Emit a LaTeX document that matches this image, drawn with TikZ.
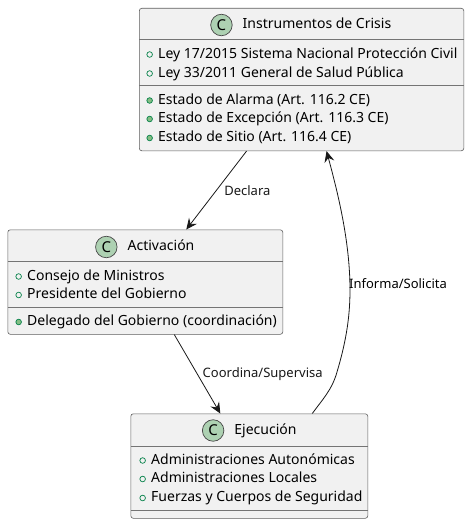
\documentclass[tikz,border=0pt]{standalone}
\usepackage{fontspec}
\setmainfont{Noto Sans}
\usepackage{xcolor}
\usetikzlibrary{arrows.meta, positioning, calc}
\definecolor{boxfill}{HTML}{F1F1F1}
\definecolor{boxline}{HTML}{181818}
\definecolor{iconfill}{HTML}{ADD1B2}
\definecolor{memberline}{HTML}{038048}
\definecolor{memberfill}{HTML}{84BE84}

\begin{document}
\begin{tikzpicture}[x=1pt, y=-1pt,
  classbox/.style={rectangle, rounded corners=2.5pt, draw=boxline!70, fill=boxfill, line width=0.6pt,
                   anchor=north west, inner sep=0pt},
  classline/.style={draw=boxline!60, line width=0.6pt},
  classname/.style={inner sep=0pt, font=\fontsize{14}{16}\selectfont, text height=10.5pt, text depth=3pt},
  classicon/.style={circle, draw=boxline!80, fill=iconfill, line width=0.7pt, minimum size=21.5pt, inner sep=0pt,
                    font=\fontsize{15}{16}\selectfont\bfseries},
  member/.style={inner sep=0pt, anchor=west, font=\fontsize{14}{16}\selectfont, text height=10.5pt, text depth=3pt},
  fieldicon/.style={circle, draw=memberline, line width=0.7pt, minimum size=5.6pt, inner sep=0pt},
  methodicon/.style={fieldicon, fill=memberfill},
  arrow/.style={-{Stealth[length=11pt, width=10pt, inset=4pt]}, boxline, line width=0.8pt},
  edgelabel/.style={inner sep=0pt, font=\fontsize{13}{15}\selectfont},
]
  \useasboundingbox (0,0) rectangle (469,524);

  % crisis instruments
  \node[classbox, minimum width=324.5pt, minimum height=142.5pt] (instr) at (139,8) {};
  \node[classname] (instrname) at (317,25) {Instrumentos de Crisis};
  \node[classicon, left=10pt of instrname] (instricon) {C};
  \draw[classline] (139,39) -- (463.5,39);
  \draw[classline] (139,85) -- (463.5,85);
  \node[member] (instra) at (158,54.5) {Ley 17/2015 Sistema Nacional Protección Civil};
  \node[member] (instrb) at (158,73.5) {Ley 33/2011 General de Salud Pública};
  \node[member] (instrc) at (158,100.5) {Estado de Alarma (Art. 116.2 CE)};
  \node[member] (instrd) at (158,119) {Estado de Excepción (Art. 116.3 CE)};
  \node[member] (instre) at (158,138) {Estado de Sitio (Art. 116.4 CE)};

  % activation
  \node[classbox, minimum width=275pt, minimum height=104.5pt] (activ) at (7.5,229.5) {};
  \node[classname] (activname) at (161,247) {Activación};
  \node[classicon, left=10pt of activname] (activicon) {C};
  \draw[classline] (7.5,261.5) -- (282.5,261.5);
  \draw[classline] (7.5,307.5) -- (282.5,307.5);
  \node[member] (activa) at (27,276.5) {Consejo de Ministros};
  \node[member] (activb) at (27,295) {Presidente del Gobierno};
  \node[member] (activc) at (27,322) {Delegado del Gobierno (coordinación)};

  % execution
  \node[classbox, minimum width=237pt, minimum height=104.5pt] (ejec) at (130.5,413.5) {};
  \node[classname] (ejecname) at (265.5,430.5) {Ejecución};
  \node[classicon, left=10pt of ejecname] (ejecicon) {C};
  \draw[classline] (130.5,446) -- (367.5,446);
  \draw[classline] (130.5,510) -- (367.5,510);
  \node[member] (ejeca) at (151,460.5) {Administraciones Autonómicas};
  \node[member] (ejecb) at (151,479) {Administraciones Locales};
  \node[member] (ejecc) at (151,498) {Fuerzas y Cuerpos de Seguridad};

  \foreach \m in {instra, instrb, activa, activb, ejeca, ejecb, ejecc}
    \node[fieldicon, left=5.2pt of \m] (\m icon) {};
  \foreach \m in {instrc, instrd, instre, activc}
    \node[methodicon, left=5.2pt of \m] (\m icon) {};

  \draw[arrow] ([xshift=-55pt]instr.south) -- node[edgelabel, pos=0.5, right=7.5pt] (declara) {Declara} ([xshift=41pt]activ.north);
  \draw[arrow] ([xshift=29pt]activ.south) -- node[edgelabel, pos=0.5, right=5pt] (coordina) {Coordina/Supervisa} ([xshift=-29pt]ejec.north);
  \draw[arrow] ([xshift=63pt]ejec.north) .. controls (322,400) and (332,390) .. (337,372)
     .. controls (345,345) and (350,320) .. (350,290)
     .. controls (350,240) and (337,190) .. ([xshift=25pt]instr.south);
  \node[edgelabel, anchor=west] (informa) at (349,284) {Informa/Solicita};
\end{tikzpicture}
\end{document}
